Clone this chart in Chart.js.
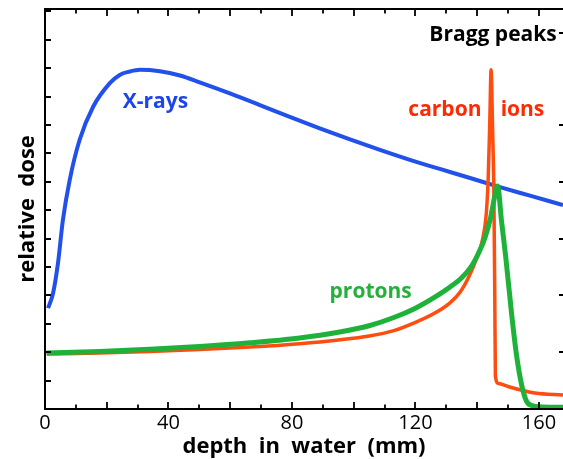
<!DOCTYPE html>
<html><head><meta charset="utf-8">
<script src="https://cdn.jsdelivr.net/npm/chart.js@4.4.1/dist/chart.umd.min.js"></script>
<style>html,body{margin:0;padding:0;background:#fff}canvas{display:block}</style>
</head><body>
<canvas id="c" width="563" height="459"></canvas>
<script>
// ---- data (depth in mm, relative dose in arbitrary units) ----
const xrayDepth = [1.0,2.6,4.2,5.8,8.0,11.2,15.6,21.0,24.2,27.5,30.7,37.2,43.7,50.1,59.9,69.6,79.3,89.0,98.8,108.5,118.2,127.9,137.7,147.4,157.1,167.8];
const xrayDose  = [3.55,4.07,5.13,6.65,8.06,9.47,10.64,11.47,11.76,11.88,11.94,11.89,11.74,11.50,11.11,10.70,10.28,9.88,9.49,9.12,8.77,8.45,8.13,7.81,7.51,7.18];

const protonDepth = [0.55,17.7,33.9,50.1,66.4,82.5,95,105,113,120,126,131,135,138,140.5,142.5,144.3,145.8,146.6,147.9,149.3,151.2,152.8,154.4,156.0,157.7,160,167.8];
const protonDose  = [1.97,2.02,2.10,2.20,2.33,2.50,2.70,2.93,3.22,3.55,3.92,4.28,4.62,5.0,5.5,6.02,6.72,7.54,7.85,6.6,5.3,3.3,1.85,0.85,0.27,0.12,0.08,0.06];

const carbonDepth = [0.55,17.7,33.9,50.1,66.4,82.5,95,105,113,120,126,131,134.5,137.5,140,141.8,143,143.6,144.1,144.5,145.0,145.4,145.7,145.9,146.9,150.0,158.7,167.8];
const carbonDose  = [1.94,1.97,2.02,2.09,2.18,2.30,2.43,2.57,2.76,3.05,3.36,3.72,4.12,4.7,5.35,6.0,6.95,8.2,10.2,11.94,9.82,7.71,4.0,1.15,0.90,0.79,0.56,0.49];

const xTickStep = 40;
const xMinorTicks = [10,20,30,40,50,60,70,80,90,100,110,120,130,140,150,160];
const yLeftTicks = [1,2,3,4,5,6,7,8,9,10,11,12,13,14];
const yRightTicks = [2,4,6,8,10,13.25];

const annotations = [
  {text:'X-rays', x:25.2, y:10.59, color:'#1d43ef', align:'left'},
  {text:'carbon', x:117.7, y:10.32, color:'#ff2a00', align:'left'},
  {text:'ions', x:147.6, y:10.32, color:'#ff2a00', align:'left'},
  {text:'Bragg peaks', x:124.5, y:12.95, color:'#000000', align:'left'},
  {text:'protons', x:118.8, y:3.89, color:'#25b03c', align:'right'}
];

const toPts = (xs, ys) => xs.map((d, i) => ({x: d, y: ys[i]}));

Chart.defaults.font.family = "'Open Sans', 'DejaVu Sans', sans-serif";

const frameTicks = {
  id: 'frameTicks',
  afterDraw(chart) {
    const {ctx, chartArea: a, scales: {x, y}} = chart;
    ctx.save();
    ctx.strokeStyle = '#000';
    ctx.lineWidth = 2;
    ctx.beginPath();
    ctx.moveTo(a.right + 2, a.top);
    ctx.lineTo(a.left, a.top);
    ctx.lineTo(a.left, a.bottom);
    ctx.lineTo(a.right + 2, a.bottom);
    ctx.stroke();
    ctx.lineWidth = 1.8;
    ctx.beginPath();
    for (const v of xMinorTicks) {
      const px = Math.round(x.getPixelForValue(v));
      const len = v % 20 === 0 ? 7 : 4.5;
      ctx.moveTo(px, a.bottom); ctx.lineTo(px, a.bottom - len);
      ctx.moveTo(px, a.top); ctx.lineTo(px, a.top + len);
    }
    for (const v of yLeftTicks) {
      const py = Math.round(y.getPixelForValue(v));
      ctx.moveTo(a.left, py); ctx.lineTo(a.left + 6, py);
    }
    for (const v of yRightTicks) {
      const py = Math.round(y.getPixelForValue(v));
      ctx.moveTo(a.right, py); ctx.lineTo(a.right - 4, py);
    }
    ctx.stroke();
    ctx.font = "bold 21px 'Open Sans'";
    ctx.textBaseline = 'alphabetic';
    for (const t of annotations) {
      ctx.fillStyle = t.color;
      ctx.textAlign = t.align;
      ctx.fillText(t.text, x.getPixelForValue(t.x), y.getPixelForValue(t.y));
    }
    ctx.restore();
  }
};

new Chart(document.getElementById('c'), {
  type: 'line',
  data: {
    datasets: [
      {label: 'protons', data: toPts(protonDepth, protonDose), borderColor: '#1fb23a', borderWidth: 5,
       pointRadius: 0, cubicInterpolationMode: 'monotone', borderJoinStyle: 'round', fill: false},
      {label: 'carbon ions', data: toPts(carbonDepth, carbonDose), borderColor: '#ff4d0f', borderWidth: 3.5,
       pointRadius: 0, cubicInterpolationMode: 'monotone', borderJoinStyle: 'round', fill: false},
      {label: 'X-rays', data: toPts(xrayDepth, xrayDose), borderColor: '#2150ea', borderWidth: 4,
       pointRadius: 0, cubicInterpolationMode: 'monotone', borderJoinStyle: 'round', fill: false}
    ]
  },
  options: {
    responsive: false,
    animation: false,
    devicePixelRatio: 1,
    layout: {padding: {top: 9, right: 0, left: 0, bottom: 0}, autoPadding: false},
    plugins: {legend: {display: false}, tooltip: {enabled: false}},
    scales: {
      x: {
        type: 'linear', min: 0, max: 167.8,
        grid: {display: false, drawTicks: false}, border: {display: false},
        ticks: {stepSize: xTickStep, includeBounds: false, padding: 2, color: '#000',
                font: {size: 20}, maxRotation: 0, autoSkip: false},
        title: {display: true, text: 'depth  in  water  (mm)', color: '#000',
                font: {size: 22, weight: 'bold', lineHeight: 1}, padding: {top: 0, bottom: 1}},
        afterFit(s) { s.height = 50; }
      },
      y: {
        type: 'linear', min: 0, max: 14.08,
        grid: {display: false, drawTicks: false}, border: {display: false},
        ticks: {display: false},
        title: {display: true, text: 'relative  dose', color: '#000',
                font: {size: 22, weight: 'bold', lineHeight: 1}, padding: {top: 17, bottom: 0}},
        afterFit(s) { s.width = 45; }
      }
    }
  },
  plugins: [frameTicks]
});
</script>
</body></html>
